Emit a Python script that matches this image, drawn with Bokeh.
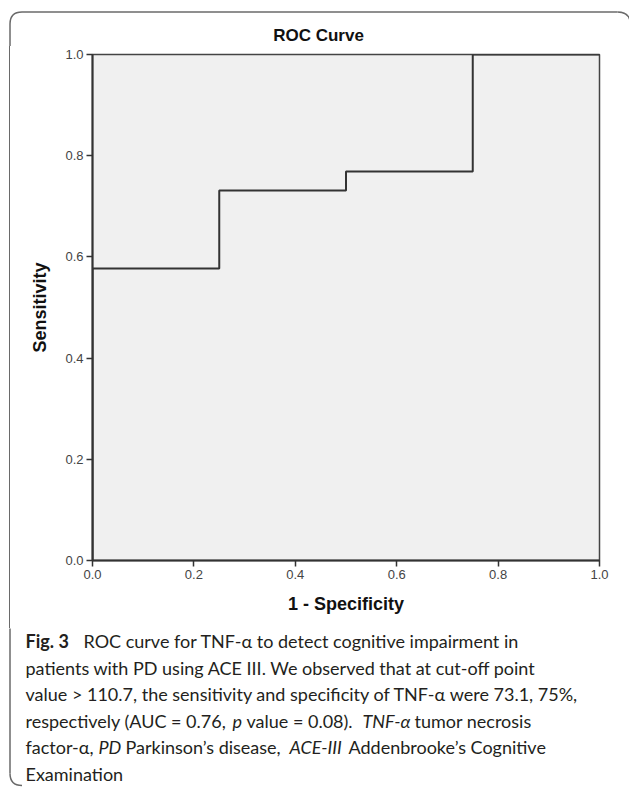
from bokeh.plotting import figure
from bokeh.models import Range1d, FixedTicker, PrintfTickFormatter, Spacer
from bokeh.layouts import column, row
from bokeh.core.properties import value
from bokeh.embed import file_html
from bokeh.resources import INLINE

# ROC curve data (1 - specificity, sensitivity)
fpr = [0.0, 0.0, 0.25, 0.25, 0.5, 0.5, 0.75, 0.75, 1.0]
tpr = [0.0, 0.577, 0.577, 0.731, 0.731, 0.769, 0.769, 1.0, 1.0]
x_ticks = [0.0, 0.2, 0.4, 0.6, 0.8, 1.0]
y_ticks = [0.0, 0.2, 0.4, 0.6, 0.8, 1.0]

title_text = "ROC Curve"
x_label = "1 - Specificity"
y_label = "Sensitivity"

# caption pieces: (x, line index, text, style)
caption = [
    (25, 0, "Fig. 3", "bold"),
    (83, 0, "ROC curve for TNF-α to detect cognitive impairment in", "normal"),
    (25, 1, "patients with PD using ACE III. We observed that at cut-off point", "normal"),
    (25, 2, "value > 110.7, the sensitivity and specificity of TNF-α were 73.1, 75%,", "normal"),
    (25, 3, "respectively (AUC = 0.76,", "normal"),
    (232, 3, "p", "italic"),
    (246, 3, "value = 0.08).", "normal"),
    (362, 3, "TNF-α", "italic"),
    (414, 3, "tumor necrosis", "normal"),
    (25, 4, "factor-α,", "normal"),
    (98, 4, "PD", "italic"),
    (125, 4, "Parkinson’s disease,", "normal"),
    (289, 4, "ACE-III", "italic"),
    (348, 4, "Addenbrooke’s Cognitive", "normal"),
    (25, 5, "Examination", "normal"),
]
caption_line_y = [12, 39, 65, 92, 118, 145]

FRAME_COL = "#6a6a6a"
FRAME_W = 1.5
TOTAL_W = 629
TOP_H = 46
MID_H = 582
CAP_H = 160
LEFT_W = 20


def deco_fig(w, h):
    f = figure(width=w, height=h, x_range=Range1d(0, w), y_range=Range1d(h, 0),
               output_backend="svg", toolbar_location=None,
               x_axis_location=None, y_axis_location=None,
               min_border=0, min_border_left=0, min_border_right=0,
               min_border_top=0, min_border_bottom=0)
    f.outline_line_color = None
    f.background_fill_color = "white"
    f.border_fill_color = "white"
    f.xgrid.visible = False
    f.ygrid.visible = False
    return f


# ---- top strip: outer rounded frame + title
top = deco_fig(TOTAL_W, TOP_H)
top.segment(x0=[9.5, 21.5], y0=[TOP_H + 5, 11.5], x1=[9.5, 617], y1=[23.5, 11.5],
            line_color=FRAME_COL, line_width=FRAME_W)
top.quadratic(x0=[9.5, 617], y0=[23.5, 11.5], x1=[21.5, 630], y1=[11.5, 24.5],
              cx=[9.5, 630], cy=[11.5, 11.5], line_color=FRAME_COL, line_width=FRAME_W)
top.text(x=[318], y=[35], text=[title_text], text_font=value("Liberation Sans"),
         text_font_size=value("17px"), text_font_style="bold", text_color="#111111",
         text_align="center", text_baseline="middle")

# ---- left strip (outer frame border) built from spacers
left = row(Spacer(width=9, height=MID_H),
           Spacer(width=1, height=MID_H, styles={"background-color": FRAME_COL}),
           Spacer(width=LEFT_W - 10, height=MID_H))

# ---- ROC chart
p = figure(width=TOTAL_W - LEFT_W, height=MID_H, x_range=Range1d(0, 1), y_range=Range1d(0, 1),
           output_backend="svg", toolbar_location=None,
           min_border_left=72, min_border_right=30, min_border_top=8, min_border_bottom=68)
p.background_fill_color = "#F0F0F0"
p.border_fill_color = "white"
p.outline_line_color = "#444444"
p.outline_line_width = 1.5
p.xgrid.visible = False
p.ygrid.visible = False

for ax, ticks in ((p.xaxis, x_ticks), (p.yaxis, y_ticks)):
    ax.ticker = FixedTicker(ticks=ticks)
    ax.formatter = PrintfTickFormatter(format="%.1f")
    ax.major_tick_out = 6
    ax.major_tick_in = 0
    ax.minor_tick_out = 0
    ax.minor_tick_in = 0
    ax.axis_line_width = 2
    ax.axis_line_color = "#333333"
    ax.major_tick_line_color = "#333333"
    ax.major_tick_line_width = 1.5
    ax.major_label_text_font = "Liberation Sans"
    ax.major_label_text_font_size = "13px"
    ax.major_label_text_color = "#444444"
    ax.major_label_standoff = 3
    ax.axis_label_text_font = "Liberation Sans"
    ax.axis_label_text_font_size = "18px"
    ax.axis_label_text_font_style = "bold"
    ax.axis_label_text_color = "#111111"

p.xaxis.axis_label = x_label
p.yaxis.axis_label = y_label
p.xaxis.axis_label_standoff = 12
p.yaxis.axis_label_standoff = 12

p.line(fpr, tpr, line_color="#333333", line_width=2)

# ---- caption
cap = deco_fig(TOTAL_W, CAP_H)
cap.segment(x0=[9.5], y0=[-5], x1=[9.5], y1=[145], line_color=FRAME_COL, line_width=FRAME_W)
cap.quadratic(x0=[9.5], y0=[145], x1=[21.5], y1=[157], cx=[9.5], cy=[157],
              line_color=FRAME_COL, line_width=FRAME_W)
for style in ("normal", "bold", "italic"):
    items = [c for c in caption if c[3] == style]
    cap.text(x=[c[0] for c in items], y=[caption_line_y[c[1]] for c in items],
             text=[c[2] for c in items], text_font=value("Lato"),
             text_font_size=value("18px"), text_font_style=style,
             text_color="#231F20", text_align="left", text_baseline="middle")

layout = column(top, row(left, p), cap)
open("out.html", "w").write(file_html(layout, INLINE))
